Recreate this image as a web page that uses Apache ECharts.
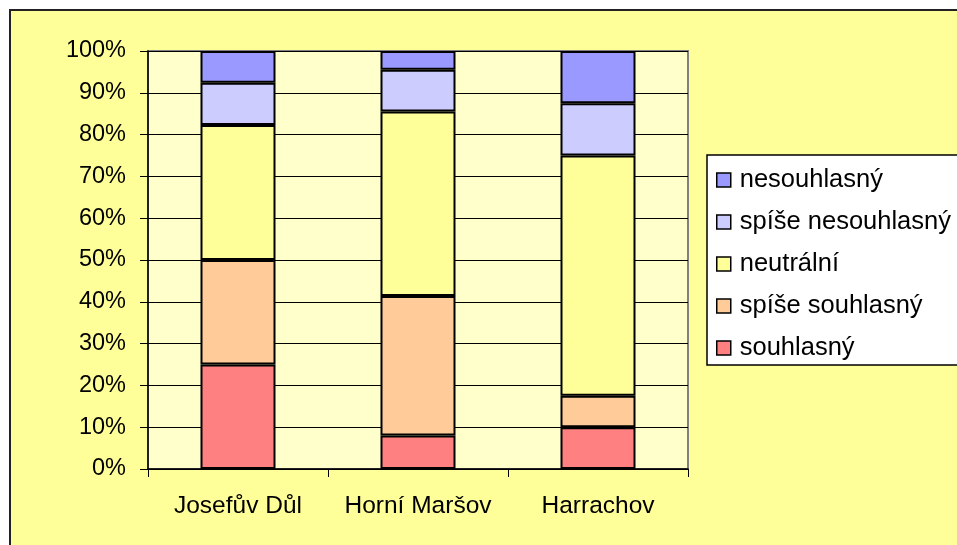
<!DOCTYPE html>
<html>
<head>
<meta charset="utf-8">
<script src="https://cdn.jsdelivr.net/npm/echarts@6/dist/echarts.min.js"></script>
<style>
html,body{margin:0;padding:0;background:#fff;}
#c{width:957px;height:545px;}
</style>
</head>
<body>
<div id="c"></div>
<script>
const categories = ['Josefův Důl', 'Horní Maršov', 'Harrachov'];
const souhlasny = [25, 8, 10];
const spiseSouhlasny = [25, 33.4, 7.5];
const neutralni = [32.3, 44.1, 57.5];
const spiseNesouhlasny = [10.1, 10, 12.5];
const nesouhlasny = [7.6, 4.5, 12.5];
const yTicks = [0, 10, 20, 30, 40, 50, 60, 70, 80, 90, 100];

const font = 'Arial, "Liberation Sans", sans-serif';
const seriesDefs = [
  {name: 'souhlasný', data: souhlasny, color: '#FF8080'},
  {name: 'spíše souhlasný', data: spiseSouhlasny, color: '#FFCC99'},
  {name: 'neutrální', data: neutralni, color: '#FFFF99'},
  {name: 'spíše nesouhlasný', data: spiseNesouhlasny, color: '#CCCCFF'},
  {name: 'nesouhlasný', data: nesouhlasny, color: '#9999FF'}
];

const chart = echarts.init(document.getElementById('c'), null, {renderer: 'canvas'});
chart.setOption({
  backgroundColor: '#ffffff',
  animation: false,
  graphic: [{
    type: 'rect', z: -10, silent: true,
    shape: {x: 10, y: 10, width: 1000, height: 600},
    style: {fill: '#FFFF99', stroke: '#222', lineWidth: 2}
  }],
  grid: {
    left: 148, top: 51, width: 540, height: 418,
    show: true, backgroundColor: '#FFFFCC', borderColor: '#808080', borderWidth: 2
  },
  legend: {
    orient: 'vertical',
    left: 707, top: 155,
    data: ['nesouhlasný', 'spíše nesouhlasný', 'neutrální', 'spíše souhlasný', 'souhlasný'],
    itemWidth: 14, itemHeight: 14, itemGap: 16,
    padding: [12, 40, 4, 9],
    backgroundColor: '#ffffff', borderColor: '#000', borderWidth: 1.5,
    textStyle: {fontFamily: font, fontSize: 25.5, lineHeight: 26, color: '#000', padding: [0, 0, 0, 4]},
    itemStyle: {borderColor: '#000', borderWidth: 1.5},
    icon: 'rect'
  },
  xAxis: {
    type: 'category', data: categories,
    axisLine: {lineStyle: {color: '#000', width: 1.5}},
    axisTick: {show: true, alignWithLabel: false, length: 8, lineStyle: {color: '#000'}},
    axisLabel: {fontFamily: font, fontSize: 24.5, color: '#000', margin: 25, interval: 0}
  },
  yAxis: {
    type: 'value', min: yTicks[0], max: yTicks[yTicks.length - 1], interval: 10,
    axisLine: {show: true, lineStyle: {color: '#000', width: 1.5}},
    axisTick: {show: true, length: 8, lineStyle: {color: '#000'}},
    splitLine: {show: true, lineStyle: {color: '#000', width: 1}},
    axisLabel: {fontFamily: font, fontSize: 23.5, color: '#000', margin: 22, formatter: '{value}%'}
  },
  series: seriesDefs.map(s => ({
    name: s.name, type: 'bar', stack: 'total', data: s.data, barWidth: 75,
    itemStyle: {color: s.color, borderColor: '#000', borderWidth: 2}
  }))
});
</script>
</body>
</html>
